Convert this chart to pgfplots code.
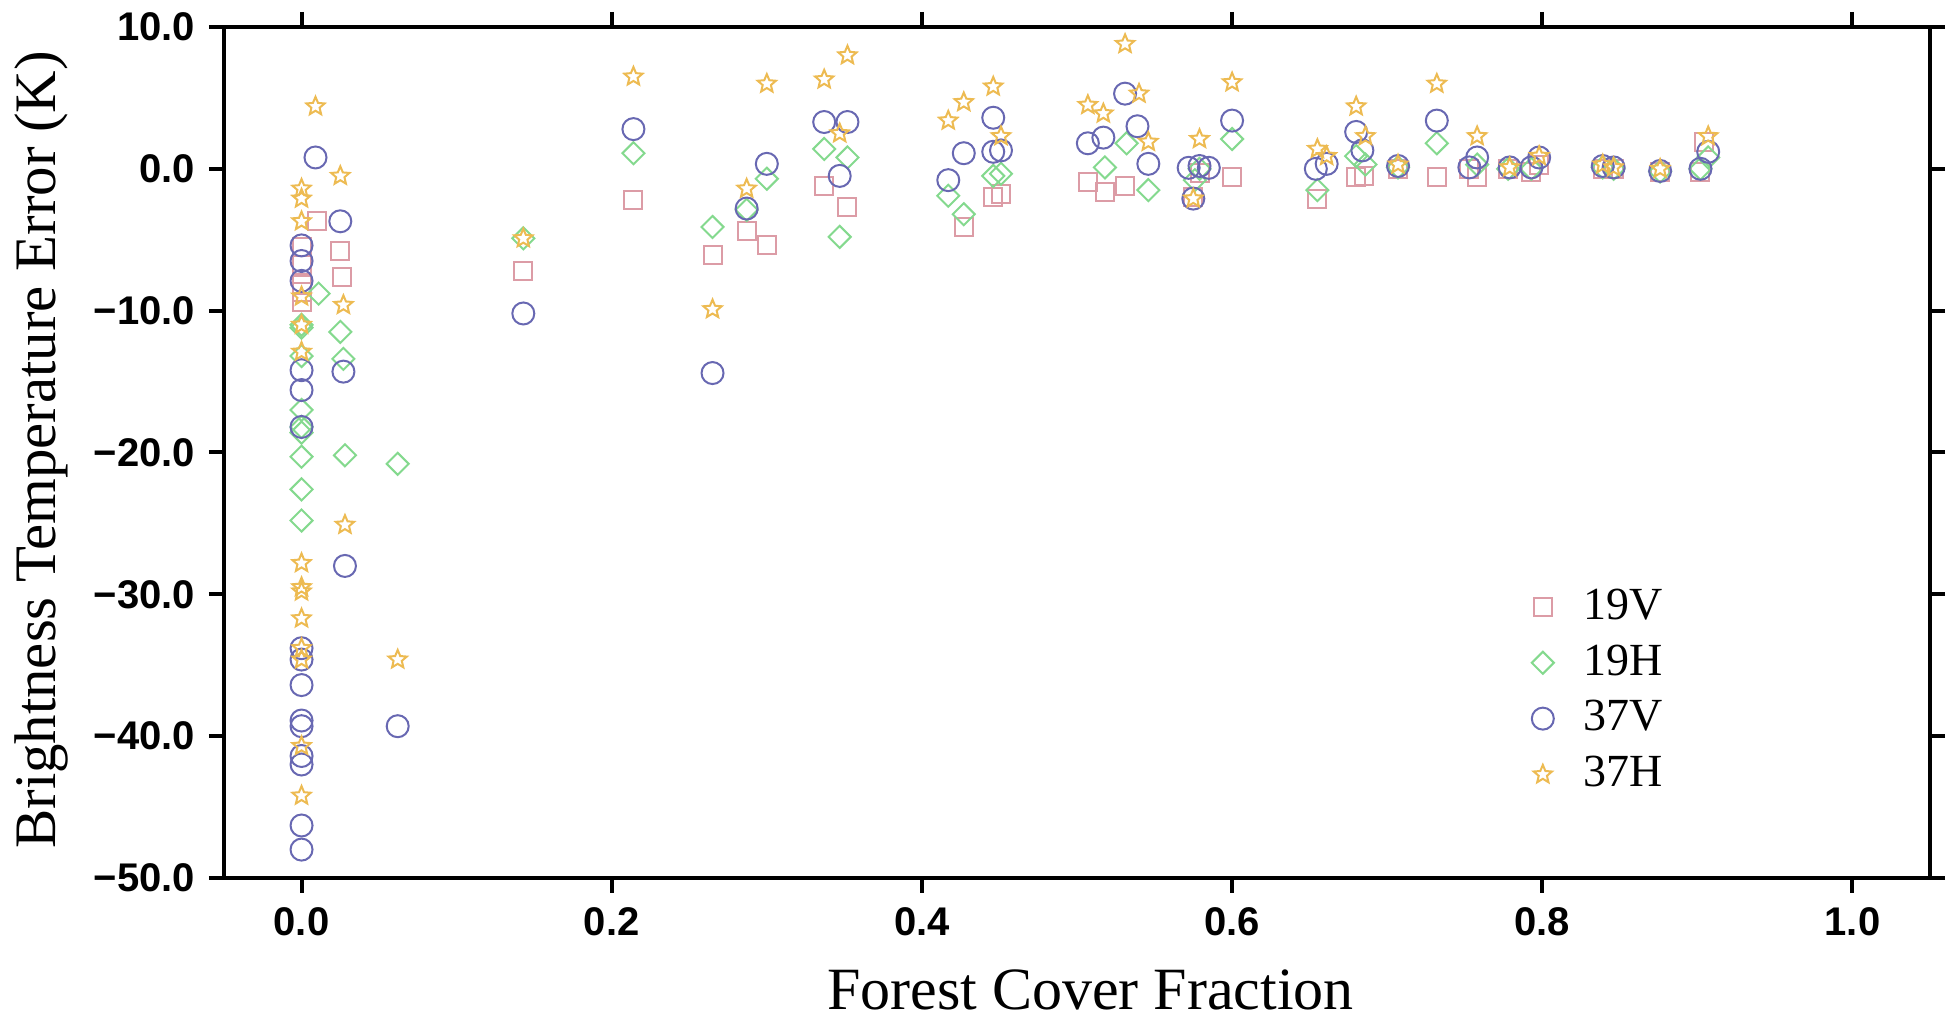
\documentclass[border=0pt]{standalone}
\usepackage{pgfplots}
\pgfplotsset{compat=1.18}
\usepackage{fontspec}
\setmainfont{Liberation Serif}
\newfontfamily\tickfont{Liberation Sans}
\definecolor{cA}{HTML}{DC9CA6}
\definecolor{cB}{HTML}{84D98E}
\definecolor{cC}{HTML}{6868B2}
\definecolor{cD}{HTML}{EDBB52}
\pgfdeclareplotmark{ostar}{%
  \pgfpathmoveto{\pgfpointpolar{90}{\pgfplotmarksize}}%
  \pgfpathlineto{\pgfpointpolar{126}{0.45*\pgfplotmarksize}}%
  \pgfpathlineto{\pgfpointpolar{162}{\pgfplotmarksize}}%
  \pgfpathlineto{\pgfpointpolar{198}{0.45*\pgfplotmarksize}}%
  \pgfpathlineto{\pgfpointpolar{234}{\pgfplotmarksize}}%
  \pgfpathlineto{\pgfpointpolar{270}{0.45*\pgfplotmarksize}}%
  \pgfpathlineto{\pgfpointpolar{306}{\pgfplotmarksize}}%
  \pgfpathlineto{\pgfpointpolar{342}{0.45*\pgfplotmarksize}}%
  \pgfpathlineto{\pgfpointpolar{18}{\pgfplotmarksize}}%
  \pgfpathlineto{\pgfpointpolar{54}{0.45*\pgfplotmarksize}}%
  \pgfpathclose
  \pgfusepathqstroke}
\begin{document}
\begin{tikzpicture}
\begin{axis}[
  scale only axis,
  width=426.5pt, height=212.75pt,
  xmin=-0.05, xmax=1.05, ymin=-50, ymax=10,
  xtick={0,0.2,0.4,0.6,0.8,1.0},
  xticklabels={0.0,0.2,0.4,0.6,0.8,1.0},
  ytick={-50,-40,-30,-20,-10,0,10},
  yticklabels={−50.0,−40.0,−30.0,−20.0,−10.0,0.0,10.0},
  tick align=outside,
  major tick length=3.75pt,
  every tick/.style={black, line width=1pt},
  axis line style={line width=1.2pt},
  tick label style={font=\tickfont\bfseries\fontsize{10}{11}\selectfont},
  xlabel={Forest Cover Fraction},
  ylabel={Brightness Temperature Error (K)},
  label style={font=\fontsize{15}{17}\selectfont},
  xlabel style={at={(axis description cs:0.508,0)}, anchor=center, yshift=-28pt},
  ylabel style={at={(axis description cs:-0.107,0.503)}, anchor=center, rotate=0, font=\fontsize{14.7}{17}\selectfont},
  legend style={draw=none, fill=none, font=\fontsize{11.5}{12}\selectfont,
    at={(axis cs:0.785,-28.42)}, anchor=north west,
    column sep=0pt, row sep=0.85pt,
    nodes={inner sep=2pt, text depth=0.15em},
    /tikz/every odd column/.append style={column sep=5.5pt}},
  legend cell align=left,
  clip=false,
]
\addplot[only marks, mark=square, mark size=2.25pt, cA, mark options={line width=0.5pt}] coordinates {
(0,-5.5) (0,-6.8) (0,-8.2) (0,-8.7) (0,-9.4)
(0.010,-3.7) (0.025,-5.8) (0.026,-7.6) (0.143,-7.2) (0.214,-2.2)
(0.265,-6.1) (0.287,-4.4) (0.300,-5.4) (0.337,-1.2) (0.352,-2.7)
(0.427,-4.1) (0.446,-2.0) (0.451,-1.8) (0.507,-0.9) (0.518,-1.6)
(0.531,-1.2) (0.575,-2.0) (0.579,-0.3) (0.600,-0.6) (0.655,-2.1)
(0.680,-0.6) (0.685,-0.5) (0.707,0.0) (0.732,-0.6) (0.753,0.0)
(0.758,-0.6) (0.778,0.0) (0.793,-0.2) (0.798,0.3) (0.839,0.0)
(0.846,0.0) (0.876,-0.2) (0.902,-0.2) (0.904,1.9)
};
\addlegendentry{19V}
\addplot[only marks, mark=square, mark size=1.95pt, cB, mark options={rotate=45, line width=0.5pt}] coordinates {
(0,-11.0) (0,-11.2) (0,-13.2) (0,-17.0) (0,-18.2) (0,-18.6) (0,-20.3) (0,-22.6) (0,-24.8)
(0.011,-8.8) (0.025,-11.5) (0.027,-13.4) (0.028,-20.2) (0.062,-20.8)
(0.143,-4.9) (0.214,1.1) (0.265,-4.1) (0.287,-2.9) (0.300,-0.7)
(0.337,1.4) (0.347,-4.8) (0.352,0.8) (0.417,-1.9) (0.427,-3.2)
(0.446,-0.5) (0.451,-0.35) (0.518,0.1) (0.532,1.8) (0.546,-1.5)
(0.576,-0.8) (0.579,0.0) (0.600,2.1) (0.655,-1.5) (0.680,0.9)
(0.686,0.3) (0.707,0.1) (0.732,1.8) (0.758,0.3) (0.778,0.0)
(0.793,0.0) (0.839,0.1) (0.846,0.0) (0.876,-0.2) (0.902,0.0) (0.907,0.8)
};
\addlegendentry{19H}
\addplot[only marks, mark=o, mark size=2.75pt, cC, mark options={line width=0.5pt}] coordinates {
(0,-5.4) (0,-6.5) (0,-7.9) (0,-14.2) (0,-15.6) (0,-18.2)
(0,-33.8) (0,-34.6) (0,-36.4) (0,-38.9) (0,-39.3) (0,-41.4) (0,-42.0) (0,-46.3) (0,-48.0)
(0.009,0.8) (0.025,-3.7) (0.027,-14.3) (0.028,-28.0) (0.062,-39.3)
(0.143,-10.2) (0.214,2.8) (0.265,-14.4) (0.287,-2.8) (0.300,0.35)
(0.337,3.3) (0.347,-0.5) (0.352,3.3) (0.417,-0.8) (0.427,1.1)
(0.446,3.6) (0.446,1.2) (0.451,1.3) (0.507,1.8) (0.517,2.2)
(0.531,5.3) (0.539,3.0) (0.546,0.35) (0.572,0.07) (0.579,0.2)
(0.585,0.07) (0.575,-2.1) (0.600,3.4) (0.654,0.0) (0.661,0.35)
(0.680,2.6) (0.684,1.3) (0.707,0.2) (0.732,3.4) (0.753,0.1)
(0.758,0.8) (0.779,0.1) (0.793,0.1) (0.798,0.8) (0.839,0.2)
(0.846,0.1) (0.876,-0.15) (0.902,0.0) (0.907,1.2)
};
\addlegendentry{37V}
\addplot[only marks, mark=ostar, mark size=2.4pt, cD, mark options={line width=0.5pt}] coordinates {
(0,-1.4) (0,-2.1) (0,-3.7) (0,-9.0) (0,-11.0) (0,-12.9)
(0,-27.8) (0,-29.5) (0,-29.8) (0,-31.7) (0,-33.8) (0,-34.6) (0,-40.7) (0,-44.2)
(0.009,4.4) (0.025,-0.5) (0.027,-9.6) (0.028,-25.1) (0.062,-34.6)
(0.143,-4.9) (0.214,6.5) (0.265,-9.9) (0.287,-1.4) (0.300,6.0)
(0.337,6.3) (0.347,2.5) (0.352,8.0) (0.417,3.4) (0.427,4.7)
(0.446,5.8) (0.451,2.3) (0.507,4.5) (0.517,3.9) (0.531,8.8)
(0.540,5.3) (0.546,1.9) (0.579,2.1) (0.575,-2.1) (0.600,6.1)
(0.655,1.4) (0.661,0.9) (0.680,4.4) (0.686,2.3) (0.707,0.3)
(0.732,6.0) (0.758,2.3) (0.779,0.1) (0.798,0.9) (0.839,0.3)
(0.846,0.1) (0.876,0.0) (0.907,2.3)
};
\addlegendentry{37H}
\end{axis}
\pgfresetboundingbox
\path[use as bounding box] ([shift={(-56pt,-34.75pt)}]current axis.south west) rectangle ([shift={(5.5pt,6.75pt)}]current axis.north east);
\end{tikzpicture}
\end{document}
